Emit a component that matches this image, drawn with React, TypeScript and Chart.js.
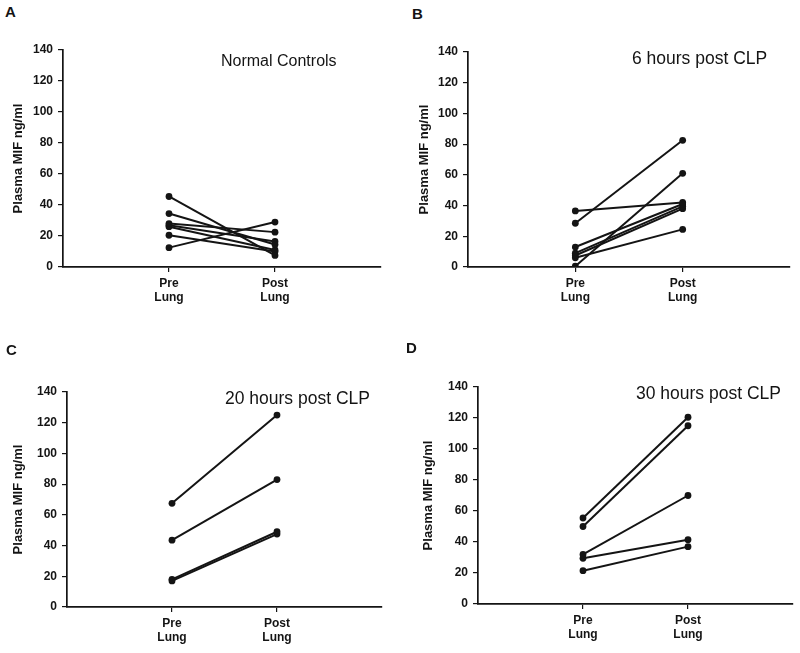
import React, { useEffect, useRef } from 'react';
import { Chart, registerables } from 'chart.js';

Chart.register(...registerables);

// ---- data ----
const categories = ['Pre', 'Post'];
const categoryLabels = [['Pre', 'Lung'], ['Post', 'Lung']];
const yTickValues = [0, 20, 40, 60, 80, 100, 120, 140];
const yAxisTitle = 'Plasma MIF ng/ml';

const panelLetters = ['A', 'B', 'C', 'D'];
const panelTitles = ['Normal Controls', '6 hours post CLP', '20 hours post CLP', '30 hours post CLP'];

const preA = [45.5, 34.5, 28, 27, 26, 20.5, 12.5];
const postA = [7.5, 14.5, 22.5, 16.5, 11, 10, 29];

const preB = [36.5, 28.5, 13, 9, 7.5, 6, 0.5];
const postB = [42, 82.5, 41, 39.5, 38, 24.5, 61];

const preC = [67.5, 43.5, 18, 17];
const postC = [125, 83, 49, 47.5];

const preD = [55.5, 50, 32, 29.5, 21.5];
const postD = [120.5, 115, 70, 41.5, 37];

const FONT = "'Liberation Sans', Arial, Helvetica, sans-serif";
const INK = '#141414';

type PanelProps = {
  pre: number[];
  post: number[];
  left: number;
  top: number;
  width: number;
  height: number;
  padLeft: number;
  padRight: number;
  padTop: number;
  yWidth: number;
  xHeight: number;
};

function Panel(p: PanelProps) {
  const ref = useRef<HTMLCanvasElement | null>(null);
  useEffect(() => {
    if (!ref.current) return;
    const datasets = p.pre.map((v, i) => ({
      data: [
        { x: 1, y: v },
        { x: 2, y: p.post[i] },
      ],
      borderColor: INK,
      backgroundColor: INK,
      pointBackgroundColor: INK,
      pointBorderColor: INK,
      pointBorderWidth: 0,
      pointRadius: 3.4,
      borderWidth: 2,
      fill: false,
      tension: 0,
    }));
    const chart = new Chart(ref.current, {
      type: 'line',
      data: { datasets },
      options: {
        responsive: false,
        animation: false,
        devicePixelRatio: 1,
        layout: { padding: { left: p.padLeft, right: p.padRight, top: p.padTop, bottom: 0 } },
        plugins: {
          legend: { display: false },
          tooltip: { enabled: false },
          title: { display: false },
        },
        scales: {
          x: {
            type: 'linear',
            min: 0,
            max: 3,
            afterBuildTicks: (s: any) => {
              s.ticks = categories.map((_, i) => ({ value: i + 1 }));
            },
            afterFit: (s: any) => {
              s.height = p.xHeight;
            },
            ticks: {
              autoSkip: false,
              maxRotation: 0,
              padding: 4,
              color: INK,
              font: { family: FONT, size: 12, weight: 'bold' },
              callback: (v: any) => {
                const idx = Math.round(Number(v)) - 1;
                return idx >= 0 && idx < categoryLabels.length ? categoryLabels[idx] : '';
              },
            },
            grid: { drawOnChartArea: false, drawTicks: true, tickLength: 5, color: INK, lineWidth: 1.2 },
            border: { display: true, color: INK, width: 1.7 },
          },
          y: {
            type: 'linear',
            min: 0,
            max: 140,
            afterBuildTicks: (s: any) => {
              s.ticks = yTickValues.map((v) => ({ value: v }));
            },
            afterFit: (s: any) => {
              s.width = p.yWidth;
            },
            ticks: {
              padding: 5,
              color: INK,
              font: { family: FONT, size: 12, weight: 'bold' },
            },
            grid: { drawOnChartArea: false, drawTicks: true, tickLength: 5, color: INK, lineWidth: 1.2 },
            border: { display: true, color: INK, width: 1.7 },
            title: {
              display: true,
              text: yAxisTitle,
              color: INK,
              padding: 0,
              font: { family: FONT, size: 13, weight: 'bold' },
            },
          },
        },
      },
    } as any);
    return () => chart.destroy();
  }, []);
  return (
    <canvas
      ref={ref}
      width={p.width}
      height={p.height}
      style={{ position: 'absolute', left: p.left, top: p.top, width: p.width, height: p.height, display: 'block' }}
    />
  );
}

function Label(props: { text: string; left: number; baseline: number; size: number; bold?: boolean }) {
  const top = props.baseline - 0.8465 * props.size;
  return (
    <div
      style={{
        position: 'absolute',
        left: props.left,
        top,
        fontFamily: FONT,
        fontSize: props.size,
        lineHeight: `${props.size}px`,
        fontWeight: props.bold ? 900 : 400,
        color: INK,
        whiteSpace: 'nowrap',
      }}
    >
      {props.text}
    </div>
  );
}

export default function App() {
  return (
    <div style={{ position: 'absolute', left: 0, top: 0, width: 800, height: 653, background: '#fff', overflow: 'hidden' }}>
      <Panel pre={preA} post={postA} left={0} top={30} width={400} height={290}
        padLeft={11} padRight={19} padTop={20} yWidth={52} xHeight={53} />
      <Panel pre={preB} post={postB} left={400} top={30} width={400} height={290}
        padLeft={17} padRight={10} padTop={22} yWidth={51} xHeight={53} />
      <Panel pre={preC} post={postC} left={0} top={350} width={400} height={303}
        padLeft={11} padRight={18} padTop={42} yWidth={56} xHeight={46} />
      <Panel pre={preD} post={postD} left={400} top={350} width={400} height={303}
        padLeft={21} padRight={7} padTop={37} yWidth={57} xHeight={49} />

      <Label text={panelLetters[0]} left={5} baseline={16.5} size={15} bold />
      <Label text={panelLetters[1]} left={412} baseline={19} size={15} bold />
      <Label text={panelLetters[2]} left={6} baseline={355} size={15} bold />
      <Label text={panelLetters[3]} left={406} baseline={353} size={15} bold />

      <Label text={panelTitles[0]} left={221} baseline={66.7} size={16} />
      <Label text={panelTitles[1]} left={632} baseline={65} size={17.5} />
      <Label text={panelTitles[2]} left={225} baseline={405} size={17.5} />
      <Label text={panelTitles[3]} left={636} baseline={400} size={17.5} />
    </div>
  );
}
